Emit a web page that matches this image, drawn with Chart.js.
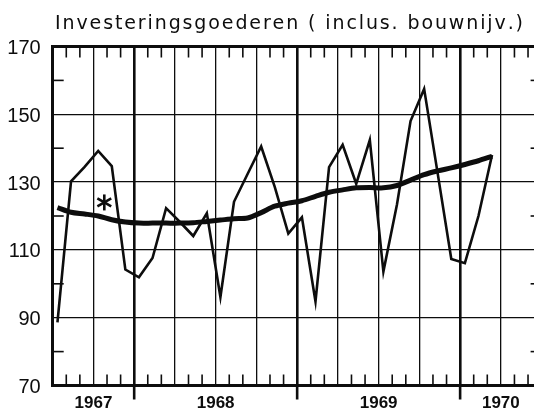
<!DOCTYPE html>
<html>
<head>
<meta charset="utf-8">
<script src="https://cdn.jsdelivr.net/npm/chart.js@4.4.1/dist/chart.umd.min.js"></script>
<style>
  html, body { margin: 0; padding: 0; background: #fff; overflow: hidden; }
  #wrap { width: 534px; height: 413px; position: relative; }
</style>
</head>
<body>
<div id="wrap"><canvas id="investChart"></canvas></div>
<script>
'use strict';

// Maandcijfers, juli 1967 t/m maart 1970
const startYear = 1967;
const startMonth = 6; // juli (0-based)

// Indexcijfer per maand (dunne lijn)
const indexSeries = [88.6, 130.2, 134.5, 139.2, 134.7, 104.2, 101.9, 107.6, 122.3, 118.3,
    114.1, 120.8, 96.1, 124.2, 132.4, 140.5, 128.6, 114.8, 119.6, 94.8,
    134.4, 141.0, 129.5, 142.4, 103.6, 123.4, 148.0, 157.5, 132.5, 107.3,
    106.1, 120.0, 138.0];

// Trend (dikke lijn)
const trendSeries = [122.5, 121.1, 120.6, 120.0, 118.9, 118.2, 117.9, 117.9, 117.9, 117.9,
    118.0, 118.4, 118.8, 119.2, 119.4, 121.0, 122.9, 123.8, 124.5, 125.8,
    127.0, 127.7, 128.3, 128.4, 128.3, 129.0, 130.6, 132.2, 133.3, 134.2,
    135.2, 136.3, 137.6];

const yearLabels = ['1967', '1968', '1969', '1970'];
const yTickLabels = [70, 90, 110, 130, 150, 170];
const yMinorTicks = [80, 100, 120, 140, 160];
const titleText = 'Investeringsgoederen ( inclus. bouwnijv.)';
const asterisk = { month: 3.8, value: 124 };

const ink = '#0d0d0d';
const fontFamily = '"Liberation Sans", Arial, Helvetica, sans-serif';
const titleFont = '19px "DejaVu Sans", "Liberation Sans", sans-serif';
const xMax = 35.44;
const pointOffset = 0.35;

const monthLabels = indexSeries.map(function(_, i) {
    const d = new Date(startYear, startMonth + i, 1);
    return d.toLocaleString('nl-NL', { month: 'short', year: 'numeric' });
});

const indexPoints = indexSeries.map((v, i) => ({ x: i + pointOffset, y: v }));
const trendPoints = trendSeries.map((v, i) => ({ x: i + pointOffset, y: v }));

// Jaartal midden in het zichtbare deel van het jaar, op de dichtstbijzijnde kwartaallijn
const yearTickMap = {};
yearLabels.forEach(function(label, k) {
    const start = Math.max(0, k * 12 - startMonth);
    const end = Math.min(xMax, k * 12 - startMonth + 12);
    const mid = (start + end) / 2;
    yearTickMap[Math.round(mid / 3) * 3] = label;
});

function strokeLine(ctx, x1, y1, x2, y2) {
    ctx.beginPath();
    ctx.moveTo(x1, y1);
    ctx.lineTo(x2, y2);
    ctx.stroke();
}

const decorPlugin = {
    id: 'decor',
    afterDraw(chart) {
        const ctx = chart.ctx;
        const a = chart.chartArea;
        const xs = chart.scales.x;
        const ys = chart.scales.y;
        ctx.save();
        ctx.strokeStyle = ink;
        ctx.lineCap = 'butt';

        // maandstreepjes boven en onder
        ctx.lineWidth = 1.6;
        for (let m = 1; m < 37; m++) {
            if (m % 3 === 0) continue;
            const px = xs.getPixelForValue(m);
            strokeLine(ctx, px, a.top, px, a.top + 11);
            strokeLine(ctx, px, a.bottom, px, a.bottom - 11);
        }

        // jaarstreepjes onder de as
        ctx.lineWidth = 2.6;
        for (let m = 6; m < 37; m += 12) {
            const px = xs.getPixelForValue(m);
            strokeLine(ctx, px, a.bottom, px, a.bottom + 14);
        }

        // tussenstreepjes op de y-as, links en rechts
        ctx.lineWidth = 1.6;
        const rightEdge = xs.getPixelForValue(36);
        yMinorTicks.forEach(function(v) {
            const py = ys.getPixelForValue(v);
            strokeLine(ctx, a.left, py, a.left + 11, py);
            strokeLine(ctx, rightEdge - 11, py, rightEdge, py);
        });

        // sterretje
        const sx = xs.getPixelForValue(asterisk.month);
        const sy = ys.getPixelForValue(asterisk.value);
        ctx.lineWidth = 2.6;
        [90, 30, 150].forEach(function(deg) {
            const r = deg * Math.PI / 180;
            const dx = Math.cos(r) * 8, dy = Math.sin(r) * 8;
            strokeLine(ctx, sx - dx, sy - dy, sx + dx, sy + dy);
        });

        // titel, gespreid over de breedte
        ctx.fillStyle = ink;
        ctx.font = titleFont;
        ctx.textBaseline = 'alphabetic';
        ctx.textAlign = 'left';
        const chars = titleText.split('');
        const natural = chars.reduce((s, c) => s + ctx.measureText(c).width, 0);
        const extra = (468 - natural) / (chars.length - 1);
        let tx = 55;
        chars.forEach(function(c) {
            ctx.fillText(c, tx, 28.5);
            tx += ctx.measureText(c).width + extra;
        });
        ctx.restore();
    }
};

new Chart(document.getElementById('investChart').getContext('2d'), {
    type: 'line',
    data: {
        labels: monthLabels,
        datasets: [
            {
                label: 'Indexcijfer',
                data: indexPoints,
                borderColor: ink,
                borderWidth: 2.6,
                pointRadius: 0,
                tension: 0,
                fill: false
            },
            {
                label: 'Trend',
                data: trendPoints,
                borderColor: ink,
                borderWidth: 5,
                pointRadius: 0,
                tension: 0.3,
                fill: false
            }
        ]
    },
    options: {
        responsive: true,
        maintainAspectRatio: false,
        animation: false,
        layout: { padding: { top: 46.5, right: 0, bottom: 0, left: 0 } },
        plugins: {
            legend: { display: false },
            tooltip: { enabled: false },
            title: { display: false }
        },
        scales: {
            x: {
                type: 'linear',
                min: 0,
                max: xMax,
                afterBuildTicks: function(scale) {
                    const ticks = [];
                    for (let v = 0; v <= xMax; v += 3) ticks.push({ value: v });
                    scale.ticks = ticks;
                },
                afterFit: function(scale) { scale.height = 27.5; },
                grid: {
                    color: ink,
                    drawTicks: false,
                    lineWidth: function(c) {
                        if (!c.tick) return 1.3;
                        if (c.tick.value === 0) return 0;
                        return c.tick.value % 12 === 6 ? 2.6 : 1.3;
                    }
                },
                border: { color: ink, width: 3 },
                ticks: {
                    autoSkip: false,
                    maxRotation: 0,
                    padding: 8,
                    color: ink,
                    font: { family: fontFamily, size: 17, weight: 'bold' },
                    callback: function(value) { return yearTickMap[value] || ''; }
                }
            },
            y: {
                min: 70,
                max: 170,
                afterBuildTicks: function(scale) {
                    scale.ticks = yTickLabels.map(v => ({ value: v }));
                },
                afterFit: function(scale) { scale.width = 52.7; },
                grid: {
                    color: ink,
                    drawTicks: false,
                    lineWidth: function(c) {
                        if (!c.tick) return 1.3;
                        if (c.tick.value === 170) return 3;
                        if (c.tick.value === 70) return 0;
                        return 1.3;
                    }
                },
                border: { color: ink, width: 3 },
                ticks: {
                    padding: 12,
                    labelOffset: 2,
                    color: ink,
                    font: { family: fontFamily, size: 20 }
                }
            }
        }
    },
    plugins: [decorPlugin]
});
</script>
</body>
</html>
